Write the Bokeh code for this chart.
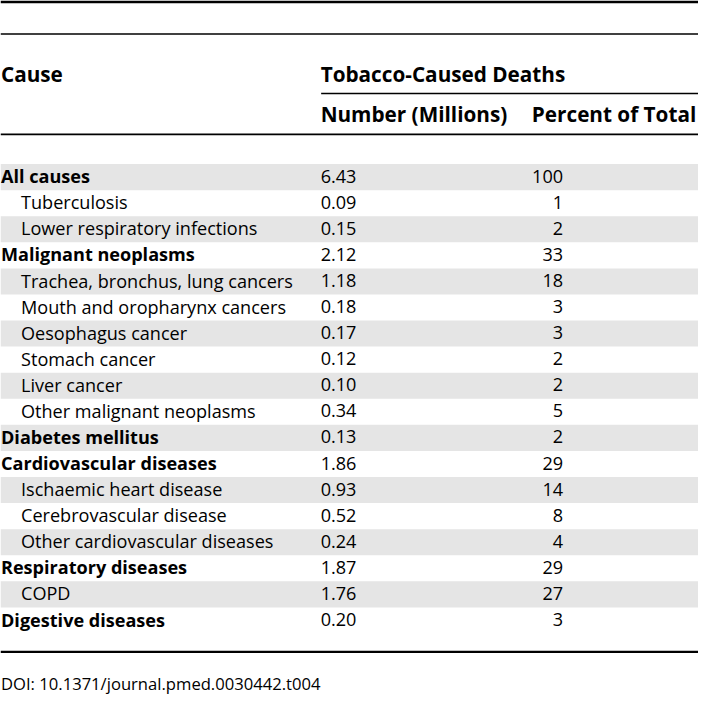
from bokeh.plotting import figure
from bokeh.models import ColumnDataSource, Range1d
from bokeh.core.properties import value
from bokeh.embed import file_html
from bokeh.resources import INLINE

# ---------------- data ----------------
causes = [
    "All causes", "Tuberculosis", "Lower respiratory infections",
    "Malignant neoplasms", "Trachea, bronchus, lung cancers",
    "Mouth and oropharynx cancers", "Oesophagus cancer", "Stomach cancer",
    "Liver cancer", "Other malignant neoplasms", "Diabetes mellitus",
    "Cardiovascular diseases", "Ischaemic heart disease",
    "Cerebrovascular disease", "Other cardiovascular diseases",
    "Respiratory diseases", "COPD", "Digestive diseases",
]
levels = [0, 1, 1, 0, 1, 1, 1, 1, 1, 1, 0, 0, 1, 1, 1, 0, 1, 0]
numbers = [6.43, 0.09, 0.15, 2.12, 1.18, 0.18, 0.17, 0.12, 0.10, 0.34,
           0.13, 1.86, 0.93, 0.52, 0.24, 1.87, 1.76, 0.20]
percents = [100, 1, 2, 33, 18, 3, 3, 2, 2, 5, 2, 29, 14, 8, 4, 29, 27, 3]

stub_header = "Cause"
group_header = "Tobacco-Caused Deaths"
col_headers = ["Number (Millions)", "Percent of Total"]
footnote = "DOI: 10.1371/journal.pmed.0030442.t004"

# ---------------- layout (reference pixel units) ----------------
W, H = 714, 719
PW, PH = 698, 703
S = PW / W
ROW0 = 167.3
ROWH = 26.67
BODY_PX = 18.5
HEAD_PX = 21.2
FONT = "Open Sans"
DY = -7.0   # baseline correction


def fs(px):
    return "%.2fpx" % (px * S)


p = figure(width=PW, height=PH, output_backend="svg", toolbar_location=None,
           x_range=Range1d(0, W), y_range=Range1d(H, 0),
           x_axis_location=None, y_axis_location=None, min_border=0,
           outline_line_color=None, background_fill_color="white",
           border_fill_color="white")
p.grid.visible = False

n = len(causes)
tops = [ROW0 + i * ROWH for i in range(n)]

# zebra shading
shade_idx = [i for i in range(n) if i % 2 == 0]
p.quad(left=[0] * len(shade_idx), right=[W] * len(shade_idx),
       top=[tops[i] for i in shade_idx], bottom=[tops[i] + ROWH for i in shade_idx],
       fill_color="#e5e5e5", line_color=None)

# rules
p.segment(x0=[0], x1=[W], y0=[1.3], y1=[1.3], line_color="black", line_width=2.8 * S)
p.segment(x0=[0], x1=[W], y0=[34.2], y1=[34.2], line_color="black", line_width=1.6 * S)
p.segment(x0=[328], x1=[W], y0=[95.2], y1=[95.2], line_color="black", line_width=1.5 * S)
p.segment(x0=[0], x1=[W], y0=[136.9], y1=[136.9], line_color="black", line_width=1.8 * S)
p.segment(x0=[0], x1=[W], y0=[666.2], y1=[666.2], line_color="black", line_width=2.2 * S)

# headers
p.text(x=[0.5, 327.5], y=[82.5 + DY, 82.5 + DY], text=[stub_header, group_header],
       text_font=value(FONT), text_font_style="bold", text_font_size=fs(HEAD_PX),
       text_color="black", text_baseline="alphabetic", text_align="left")
p.text(x=[327.5, 543.5], y=[123.3 + DY, 123.3 + DY], text=col_headers,
       text_font=value(FONT), text_font_style="bold", text_font_size=fs(HEAD_PX),
       text_color="black", text_baseline="alphabetic", text_align="left")

# body
base = [t + 19.4 + DY for t in tops]
bold_src = ColumnDataSource(dict(
    x=[0.5 for i in range(n) if levels[i] == 0],
    y=[base[i] for i in range(n) if levels[i] == 0],
    t=[causes[i] for i in range(n) if levels[i] == 0]))
norm_src = ColumnDataSource(dict(
    x=[21 for i in range(n) if levels[i] == 1],
    y=[base[i] for i in range(n) if levels[i] == 1],
    t=[causes[i] for i in range(n) if levels[i] == 1]))
num_src = ColumnDataSource(dict(x=[327.5] * n, y=base, t=["%.2f" % v for v in numbers]))
pct_src = ColumnDataSource(dict(x=[575.5] * n, y=base, t=[str(v) for v in percents]))

p.text(x="x", y="y", text="t", source=bold_src, text_font=value(FONT),
       text_font_style="bold", text_font_size=fs(BODY_PX), text_color="black",
       text_baseline="alphabetic", text_align="left")
p.text(x="x", y="y", text="t", source=norm_src, text_font=value(FONT),
       text_font_size=fs(BODY_PX), text_color="black",
       text_baseline="alphabetic", text_align="left")
p.text(x="x", y="y", text="t", source=num_src, text_font=value(FONT),
       text_font_size=fs(BODY_PX), text_color="black",
       text_baseline="alphabetic", text_align="left")
p.text(x="x", y="y", text="t", source=pct_src, text_font=value(FONT),
       text_font_size=fs(BODY_PX), text_color="black",
       text_baseline="alphabetic", text_align="right")

# footnote
p.text(x=[0.5], y=[706 + DY], text=[footnote], text_font=value(FONT),
       text_font_size=fs(17), text_color="black",
       text_baseline="alphabetic", text_align="left")

open("out.html", "w").write(file_html(p, INLINE))
